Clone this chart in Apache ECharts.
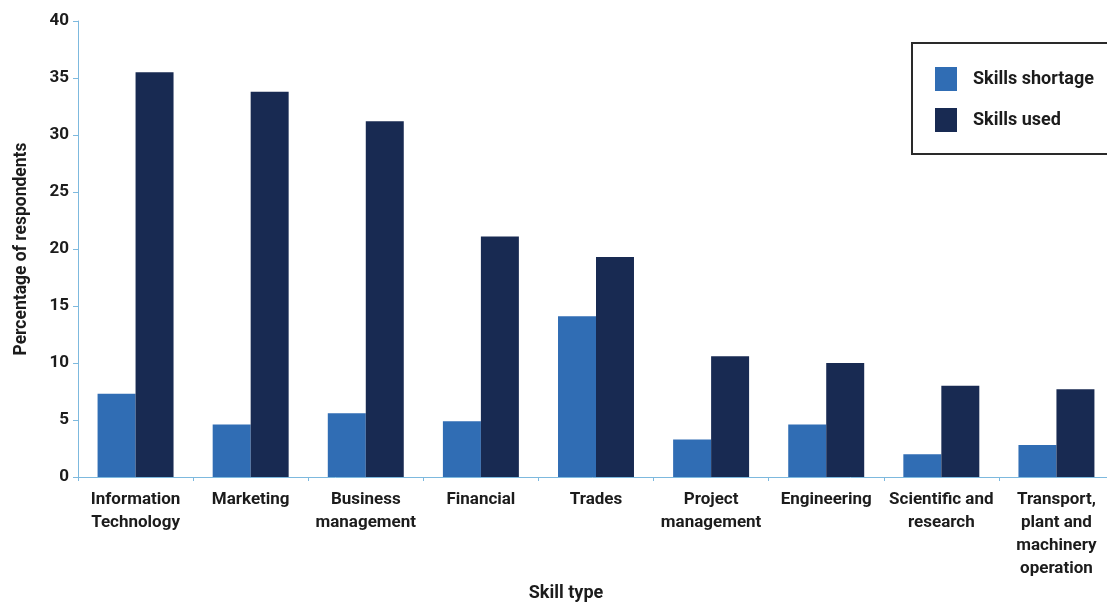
<!DOCTYPE html>
<html>
<head>
<meta charset="utf-8">
<script src="https://cdn.jsdelivr.net/npm/echarts@6/dist/echarts.min.js"></script>
<style>
  html, body { margin: 0; padding: 0; background: #fff; }
  #chart { width: 1107px; height: 605px; }
</style>
</head>
<body>
<div id="chart"></div>
<script>
// Skill categories along the x axis
const categories = [
  'Information\nTechnology',
  'Marketing',
  'Business\nmanagement',
  'Financial',
  'Trades',
  'Project\nmanagement',
  'Engineering',
  'Scientific and\nresearch',
  'Transport,\nplant and\nmachinery\noperation'
];

// Percentage of respondents per skill type
const skillsShortage = [7.3, 4.6, 5.6, 4.9, 14.1, 3.3, 4.6, 2.0, 2.8];
const skillsUsed     = [35.5, 33.8, 31.2, 21.1, 19.3, 10.6, 10.0, 8.0, 7.7];

const seriesNames = ['Skills shortage', 'Skills used'];
const yTicks = { min: 0, max: 40, interval: 5 };

const FONT = 'Roboto, "DejaVu Sans", sans-serif';
const TEXT = '#1c1c1c';
const AXIS = '#7db9de';

const chart = echarts.init(document.getElementById('chart'), null, { renderer: 'canvas' });

chart.setOption({
  backgroundColor: '#ffffff',
  animation: false,
  // plot area runs a little past the right edge of the canvas
  grid: {
    left: 78, width: 1036, top: 21, bottom: 128,
    containLabel: false,
    outerBoundsMode: 'none'
  },
  legend: {
    orient: 'vertical',
    left: 912,
    top: 43,
    data: seriesNames,
    itemWidth: 22,
    itemHeight: 24,
    itemGap: 17,
    padding: [24, 22, 22, 23],
    borderColor: '#2a2a2a',
    borderWidth: 2,
    icon: 'rect',
    textStyle: {
      fontFamily: FONT,
      fontWeight: 'bold',
      fontSize: 18,
      color: TEXT,
      padding: [0, 0, 0, 11]
    }
  },
  xAxis: {
    type: 'category',
    data: categories,
    axisLine: { show: true, lineStyle: { color: AXIS, width: 1 } },
    axisTick: { show: true, length: 4, lineStyle: { color: AXIS } },
    axisLabel: {
      interval: 0,
      margin: 11,
      fontFamily: FONT,
      fontWeight: 'bold',
      fontSize: 17,
      lineHeight: 23,
      color: TEXT
    },
    splitLine: { show: false }
  },
  yAxis: {
    type: 'value',
    min: yTicks.min,
    max: yTicks.max,
    interval: yTicks.interval,
    name: 'Percentage of respondents',
    nameLocation: 'middle',
    nameGap: 47,
    nameTextStyle: {
      fontFamily: FONT,
      fontWeight: 'bold',
      fontSize: 17.5,
      color: TEXT
    },
    axisLine: { show: true, lineStyle: { color: AXIS, width: 1 } },
    axisTick: { show: true, length: 5, lineStyle: { color: AXIS } },
    axisLabel: {
      margin: 9,
      fontFamily: FONT,
      fontWeight: 'bold',
      fontSize: 17,
      color: TEXT
    },
    splitLine: { show: false }
  },
  graphic: [{
    type: 'text',
    style: {
      text: 'Skill type',
      x: 566,
      y: 593,
      fontFamily: FONT,
      fontWeight: 'bold',
      fontSize: 18,
      fill: TEXT,
      textAlign: 'center',
      textVerticalAlign: 'middle'
    }
  }],
  series: [
    {
      name: seriesNames[0],
      type: 'bar',
      data: skillsShortage,
      barGap: '0%',
      barCategoryGap: '34%',
      itemStyle: { color: '#306db4' }
    },
    {
      name: seriesNames[1],
      type: 'bar',
      data: skillsUsed,
      barGap: '0%',
      barCategoryGap: '34%',
      itemStyle: { color: '#182a52' }
    }
  ]
});
</script>
</body>
</html>
